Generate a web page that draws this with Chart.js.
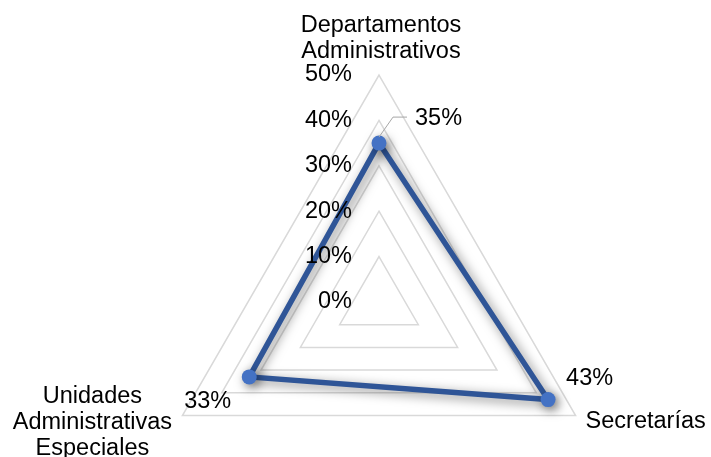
<!DOCTYPE html>
<html>
<head>
<meta charset="utf-8">
<script src="https://cdn.jsdelivr.net/npm/chart.js@4/dist/chart.umd.min.js"></script>
<style>
    html, body { margin: 0; padding: 0; background: #fff; overflow: hidden; }
    canvas { display: block; }
</style>
</head>
<body>
<canvas id="radarChart" width="711" height="560"></canvas>
<script>
const categoryLines = [
    ['Departamentos', 'Administrativos'],
    ['Secretarías'],
    ['Unidades', 'Administrativas', 'Especiales']
];
const shares = [35, 43, 33];
const tickValues = [0, 10, 20, 30, 40, 50];

const FONT = '23.5px "Liberation Sans", Arial, sans-serif';
const TEXT_COLOR = '#000';
const LINE_GAP = 26;

// where each category name sits relative to its outer vertex: [dx, first baseline dy, align]
const categoryOffsets = [
    { dx: 2, dy: -43, align: 'center' },
    { dx: 10, dy: 12, align: 'left' },
    { dx: -90, dy: -13, align: 'center' }
];
// value label offsets from each data point
const valueOffsets = [
    { dx: 36, dy: -25, align: 'left' },
    { dx: 18, dy: -21, align: 'left' },
    { dx: -18, dy: 25, align: 'right' }
];

const shadowPlugin = {
    id: 'lineShadow',
    beforeDatasetsDraw(chart) {
        const ctx = chart.ctx;
        ctx.save();
        ctx.shadowColor = 'rgba(0, 0, 0, 0.5)';
        ctx.shadowBlur = 11;
        ctx.shadowOffsetX = 3;
        ctx.shadowOffsetY = 3;
    },
    afterDatasetsDraw(chart) {
        chart.ctx.restore();
    }
};

const labelsPlugin = {
    id: 'radarLabels',
    afterDraw(chart) {
        const ctx = chart.ctx;
        const scale = chart.scales.r;
        ctx.save();
        ctx.font = FONT;
        ctx.fillStyle = TEXT_COLOR;

        // tick labels to the left of the top axis
        ctx.textAlign = 'right';
        ctx.textBaseline = 'middle';
        tickValues.forEach(v => {
            const d = scale.getDistanceFromCenterForValue(v);
            ctx.fillText(v + '%', scale.xCenter - 27, scale.yCenter - d);
        });

        // category names
        ctx.textBaseline = 'alphabetic';
        categoryLines.forEach((lines, i) => {
            const p = scale.getPointPosition(i, scale.drawingArea);
            const o = categoryOffsets[i];
            ctx.textAlign = o.align;
            lines.forEach((line, j) => {
                ctx.fillText(line, p.x + o.dx, p.y + o.dy + j * LINE_GAP);
            });
        });

        // value labels
        const meta = chart.getDatasetMeta(0);
        ctx.textBaseline = 'middle';
        meta.data.forEach((pt, i) => {
            const o = valueOffsets[i];
            if (i === 0) {
                ctx.strokeStyle = '#a6a6a6';
                ctx.lineWidth = 1;
                ctx.beginPath();
                ctx.moveTo(pt.x, pt.y - 6);
                ctx.lineTo(pt.x + 14, pt.y - 26);
                ctx.lineTo(pt.x + 28, pt.y - 26);
                ctx.stroke();
            }
            ctx.textAlign = o.align;
            ctx.fillText(shares[i] + '%', pt.x + o.dx, pt.y + o.dy);
        });
        ctx.restore();
    }
};

new Chart(document.getElementById('radarChart'), {
    type: 'radar',
    data: {
        labels: categoryLines.map(l => l.join(' ')),
        datasets: [{
            data: shares,
            borderColor: '#2f5597',
            borderWidth: 5.5,
            fill: false,
            tension: 0,
            pointRadius: 7.5,
            pointBackgroundColor: '#4472c4',
            pointBorderColor: '#4472c4',
            pointBorderWidth: 0
        }]
    },
    options: {
        responsive: false,
        animation: false,
        layout: {
            padding: { left: 152, right: 104, top: 75, bottom: 31 }
        },
        plugins: {
            legend: { display: false },
            tooltip: { enabled: false }
        },
        scales: {
            r: {
                min: 0,
                max: 50,
                ticks: { display: false, stepSize: 10 },
                grid: { color: '#d9d9d9', lineWidth: 1.5 },
                angleLines: { display: false },
                pointLabels: { display: false }
            }
        }
    },
    plugins: [shadowPlugin, labelsPlugin]
});
</script>
</body>
</html>
